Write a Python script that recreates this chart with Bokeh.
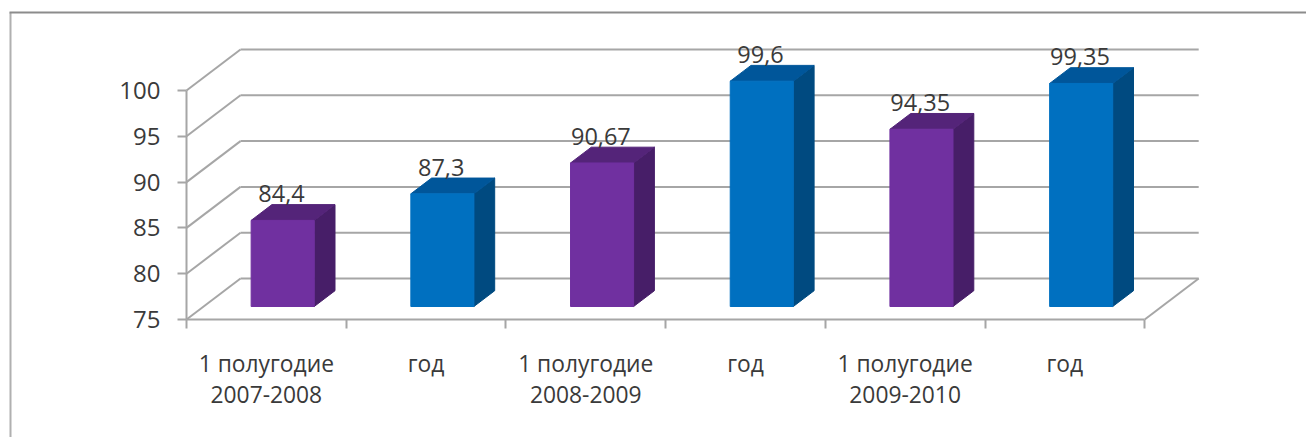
from bokeh.plotting import figure
from bokeh.models import LinearAxis, FixedTicker, Range1d, ColumnDataSource
from bokeh.core.properties import value
from bokeh.embed import file_html
from bokeh.resources import INLINE

# --- data -----------------------------------------------------------------
categories = ["1 полугодие\n2007-2008", "год", "1 полугодие\n2008-2009",
              "год", "1 полугодие\n2009-2010", "год"]
values = [84.4, 87.3, 90.67, 99.6, 94.35, 99.35]
value_labels = ["84,4", "87,3", "90,67", "99,6", "94,35", "99,35"]
y_ticks = [75, 80, 85, 90, 95, 100]

# --- styling / layout -----------------------------------------------------
FONT = "Open Sans"
TEXT = "#3a3a3a"
GRID = "#a6a6a6"
PURPLE = ("#7030a0", "#542479", "#471e68")
BLUE = ("#0070c0", "#00569a", "#004a80")

W, H = 1306, 437
X_UNIT = 159.7              # px per category
Y_UNIT = (319 - 90) / 25    # px per value unit
X0, Y0 = 186, 319           # position of the origin inside the figure
DX = 54 / X_UNIT            # full floor depth in category units
DY = 41 / Y_UNIT            # full floor depth in value units
BAR_W = 0.395
D_FRONT, D_BAR = 0.317, 0.385
NUDGE = 0.005               # small sideways nudge of the bars, in category units

p = figure(width=W, height=H, output_backend="svg", toolbar_location=None,
           x_axis_location=None, y_axis_location=None, min_border=0,
           x_range=Range1d(-X0 / X_UNIT, (W - X0) / X_UNIT),
           y_range=Range1d(75 - (H - Y0) / Y_UNIT, 75 + Y0 / Y_UNIT),
           background_fill_color="white", border_fill_color="white")
p.grid.visible = False
p.outline_line_color = None

n = len(categories)
LEFT, RIGHT = p.x_range.start, p.x_range.end
BOTTOM, TOP = p.y_range.start, p.y_range.end

# outer chart-area border (runs off the page to the right and bottom)
p.line([LEFT + 10 / X_UNIT] * 2, [BOTTOM, TOP - 12 / Y_UNIT], line_color="#b0b0b0", line_width=2)
p.line([LEFT + 9 / X_UNIT, RIGHT], [TOP - 12 / Y_UNIT] * 2, line_color="#8c8c8c", line_width=2)

# back wall, side wall, floor
for t in y_ticks:
    p.line([DX, n + DX], [t + DY, t + DY], line_color=GRID, line_width=2)
    p.line([0, DX], [t, t + DY], line_color=GRID, line_width=2)
p.line([n, n + DX], [75, 75 + DY], line_color=GRID, line_width=2)

# 3-D bars
for i, v in enumerate(values):
    front, top, side = PURPLE if i % 2 == 0 else BLUE
    l = i + 0.5 - BAR_W / 2 + D_FRONT * DX - NUDGE
    r = l + BAR_W
    b = 75 + D_FRONT * DY
    t = v + D_FRONT * DY
    sx, sy = D_BAR * DX, D_BAR * DY
    p.patch([r, r + sx, r + sx, r], [b, b + sy, t + sy, t], fill_color=side, line_color=side)
    p.patch([l, l + sx, r + sx, r], [t, t + sy, t + sy, t], fill_color=top, line_color=top)
    p.patch([l, r, r, l], [b, b, t, t], fill_color=front, line_color=front)

# value labels
src = ColumnDataSource(dict(
    x=[i + 0.5 + D_FRONT * DX for i in range(n)],
    y=[v + (D_FRONT + D_BAR) * DY for v in values],
    t=value_labels))
p.text("x", "y", text="t", source=src, text_font=value(FONT), text_font_size="23.5px",
       text_color=TEXT, text_align="center", text_baseline="alphabetic",
       x_offset=-2, y_offset=-11)

# axes
yaxis = LinearAxis(fixed_location=0, ticker=FixedTicker(ticks=y_ticks), bounds=(75, 100))
yaxis.axis_line_color = GRID
yaxis.axis_line_width = 2
yaxis.major_tick_line_color = GRID
yaxis.major_tick_line_width = 2
yaxis.major_tick_out = 9
yaxis.major_tick_in = 0
yaxis.minor_tick_line_color = None
yaxis.major_label_standoff = 17
yaxis.major_label_text_font = FONT
yaxis.major_label_text_font_size = "24px"
yaxis.major_label_text_color = TEXT
p.add_layout(yaxis, "left")

xaxis = LinearAxis(fixed_location=75, ticker=FixedTicker(ticks=list(range(n + 1))), bounds=(0, n))
xaxis.axis_line_color = GRID
xaxis.axis_line_width = 2
xaxis.major_tick_line_color = GRID
xaxis.major_tick_line_width = 2
xaxis.major_tick_out = 9
xaxis.major_tick_in = 0
xaxis.minor_tick_line_color = None
xaxis.major_label_text_color = None
p.add_layout(xaxis, "below")

centers = [i + 0.5 for i in range(n)]
labels = LinearAxis(fixed_location=75, ticker=FixedTicker(ticks=centers),
                    major_label_overrides=dict(zip(centers, categories)))
labels.axis_line_color = None
labels.major_tick_line_color = None
labels.minor_tick_line_color = None
labels.major_tick_out = 0
labels.major_tick_in = 0
labels.major_label_standoff = 28
labels.major_label_text_font = FONT
labels.major_label_text_font_size = "22.8px"
labels.major_label_text_color = TEXT
labels.major_label_text_line_height = 1.03
p.add_layout(labels, "below")

open("out.html", "w").write(file_html(p, INLINE))
